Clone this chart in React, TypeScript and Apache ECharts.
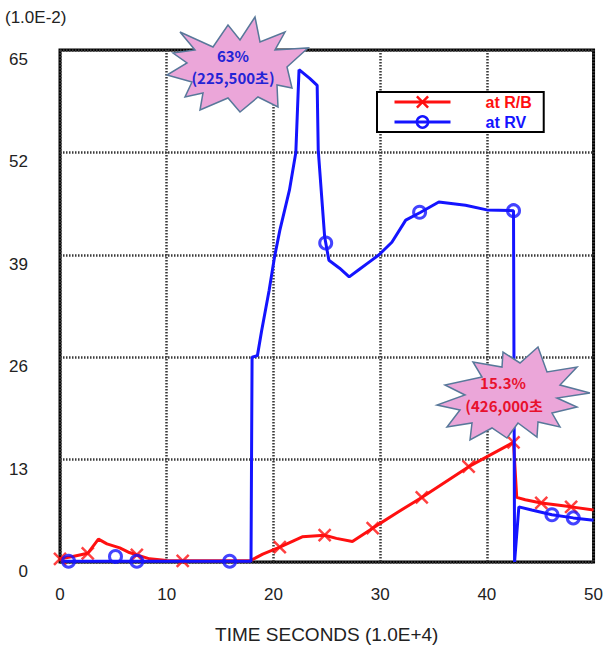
import React, { useEffect, useRef } from "react";
import * as echarts from "echarts";

// ---- data ----
const xMin = 0;
const xMax = 50;
const xInterval = 10;
const yMin = 0;
const yMax = 65;
const yInterval = 13;

const seriesNames = ["at R/B", "at RV"];
const yUnitLabel = "(1.0E-2)";
const xAxisTitle = "TIME SECONDS (1.0E+4)";

// at R/B (red) line trace [time (1e4 s), value (1e-2)]
const rbLine: number[][] = [
  [0, 0.4], [1.2, 0.7], [2.6, 1.1], [3.6, 2.9], [4.4, 2.3], [5.6, 1.8],
  [6.5, 1.2], [7.2, 0.9], [8.4, 0.4], [10, 0.2], [11.5, 0.15], [17.8, 0.15],
  [19, 1.0], [20.6, 1.9], [22.7, 3.2], [24.8, 3.4], [25.9, 3.0], [27.4, 2.6],
  [29.3, 4.3], [31.5, 6.2], [33.9, 8.2], [38.3, 12.1], [42.5, 15.2],
  [42.8, 8.2], [43.6, 7.9], [45.1, 7.5], [47.9, 7.0], [50, 6.6],
];
// at R/B marker (x) positions
const rbMarks: number[][] = [
  [0, 0.4], [2.6, 1.1], [7.2, 0.9], [11.5, 0.15], [20.6, 1.9], [24.8, 3.4],
  [29.3, 4.3], [33.9, 8.2], [38.3, 12.1], [42.5, 15.2], [45.1, 7.5], [47.9, 7.0],
];

// at RV (blue) line trace
const rvLine: number[][] = [
  [0.3, 0.1], [17.9, 0.1], [18.0, 26], [18.5, 26.2], [18.9, 29.4], [19.6, 34.5],
  [20.1, 38.7], [20.6, 42.1], [21.5, 47.2], [22.1, 52], [22.4, 62.5],
  [23.4, 61.4], [24.1, 60.5], [24.2, 52.3], [24.8, 41.3], [25.2, 38.3],
  [26.2, 37.3], [27.1, 36.2], [28.0, 37.1], [29.0, 38.1], [29.9, 39],
  [31.1, 40.6], [32.4, 43.4], [33.8, 44.4], [35.5, 45.7], [38, 45.3],
  [40, 44.7], [42.5, 44.6], [42.6, 0], [43.0, 7.0], [44.2, 6.6],
  [46.1, 6.0], [48.1, 5.6], [50, 5.3],
];
// at RV marker (o) positions
const rvMarks: number[][] = [
  [0.8, 0.1], [5.2, 0.7], [7.2, 0.1], [15.9, 0.1], [24.9, 40.5],
  [33.7, 44.4], [42.5, 44.6], [46.1, 6.0], [48.1, 5.6],
];

// callout texts
const peakCallout = ["63%", "(225,500초)"];
const rbCallout = ["15.3%", "(426,000초"];

// ---- decoration shapes (pixel outlines of the starburst callouts) ----
const burst1: number[][] = [
  [180, 32], [213, 47], [228, 25], [240, 40], [255, 17], [260, 42], [285, 32],
  [275, 50], [308, 48], [287, 67], [292, 88], [277, 85], [278, 107], [258, 97],
  [240, 112], [228, 98], [200, 110], [203, 93], [185, 97], [192, 82], [167, 75],
  [187, 63], [173, 53], [195, 50],
];
const burst2: number[][] = [
  [538, 347], [520, 363], [503, 352], [502, 367], [473, 362], [482, 377],
  [445, 385], [465, 395], [437, 405], [460, 410], [447, 427], [472, 423],
  [470, 440], [492, 428], [507, 438], [518, 423], [537, 437], [538, 422],
  [560, 427], [552, 413], [577, 407], [557, 398], [590, 393], [560, 385],
  [577, 367], [547, 372],
];

const RED = "#ff1010";
const BLUE = "#1414ff";
const X_SYMBOL = "path://M0,0L10,10M0,10L10,0";
const FONT = "Liberation Sans";
const KFONT = "Noto Sans CJK KR";

export default function App() {
  const ref = useRef<HTMLDivElement>(null);

  useEffect(() => {
    if (!ref.current) return;
    const chart = echarts.init(ref.current, null, { renderer: "svg" });

    const burstStyle = { fill: "#eba6d9", stroke: "#58789a", lineWidth: 1.5 };
    const calloutText = (x: number, y: number, text: string, color: string) => ({
      type: "text",
      x,
      y,
      z: 110,
      style: {
        text,
        fill: color,
        fontSize: 15,
        fontWeight: "bold",
        fontFamily: KFONT,
        lineHeight: 18,
        align: "center",
        verticalAlign: "middle",
      },
    });

    const gridLine = { show: true, lineStyle: { color: "#3a3a3a", width: 2.5, type: [1.5, 1.5] } };

    chart.setOption({
      animation: false,
      backgroundColor: "#ffffff",
      grid: {
        left: 60,
        top: 50,
        right: 11,
        bottom: 88,
        show: true,
        borderColor: "#000",
        borderWidth: 3,
        backgroundColor: "#fff",
        containLabel: false,
      },
      xAxis: {
        type: "value",
        min: xMin,
        max: xMax,
        interval: xInterval,
        name: xAxisTitle,
        nameLocation: "middle",
        nameGap: 63,
        nameTextStyle: { fontFamily: FONT, fontSize: 19, color: "#222" },
        axisLine: { show: false },
        axisTick: { show: false },
        axisLabel: { margin: 24, fontFamily: FONT, fontSize: 17, color: "#222" },
        splitLine: gridLine,
      },
      yAxis: {
        type: "value",
        min: yMin,
        max: yMax,
        interval: yInterval,
        axisLine: { show: false },
        axisTick: { show: false },
        axisLabel: {
          margin: 32,
          fontFamily: FONT,
          fontSize: 17,
          color: "#222",
          verticalAlign: "top",
          padding: [1, 0, 0, 0],
        },
        splitLine: gridLine,
      },
      legend: {
        show: true,
        orient: "vertical",
        left: 377,
        top: 92,
        padding: [2, 12, 2, 16],
        itemWidth: 56,
        itemHeight: 14,
        itemGap: 4,
        backgroundColor: "#fff",
        borderColor: "#000",
        borderWidth: 2,
        selectedMode: false,
        textStyle: { fontFamily: FONT, fontSize: 16, fontWeight: "bold", padding: [0, 0, 0, 30] },
        data: [
          {
            name: seriesNames[0],
            itemStyle: { color: "rgba(0,0,0,0)", borderColor: RED, borderWidth: 2.5 },
            lineStyle: { color: RED, width: 3 },
            textStyle: { color: RED },
          },
          {
            name: seriesNames[1],
            itemStyle: { color: "rgba(0,0,0,0)", borderColor: BLUE, borderWidth: 2.5 },
            lineStyle: { color: BLUE, width: 3 },
            textStyle: { color: BLUE },
          },
        ],
      },
      series: [
        {
          name: seriesNames[0],
          type: "line",
          data: rbLine,
          symbol: X_SYMBOL,
          showSymbol: false,
          lineStyle: { color: RED, width: 3 },
          itemStyle: { color: RED, borderColor: RED, borderWidth: 2.5 },
          z: 2,
        },
        {
          name: "rbMarks",
          type: "scatter",
          data: rbMarks,
          symbol: X_SYMBOL,
          symbolSize: 12,
          itemStyle: { color: "rgba(0,0,0,0)", borderColor: RED, borderWidth: 2.5 },
          z: 3,
        },
        {
          name: seriesNames[1],
          type: "line",
          data: rvLine,
          symbol: "circle",
          showSymbol: false,
          lineStyle: { color: BLUE, width: 3 },
          itemStyle: { color: BLUE, borderColor: BLUE, borderWidth: 2.5 },
          z: 4,
        },
        {
          name: "rvMarks",
          type: "scatter",
          data: rvMarks,
          symbol: "circle",
          symbolSize: 12,
          itemStyle: { color: "rgba(0,0,0,0)", borderColor: BLUE, borderWidth: 3 },
          z: 5,
        },
      ],
      graphic: [
        {
          type: "text",
          left: 5,
          top: 9,
          style: { text: yUnitLabel, fontFamily: FONT, fontSize: 17, fill: "#222" },
        },
        { type: "polygon", z: 100, shape: { points: burst1 }, style: burstStyle },
        calloutText(233, 55, peakCallout[0], "#2323d6"),
        calloutText(233, 77, peakCallout[1], "#2323d6"),
        { type: "polygon", z: 100, shape: { points: burst2 }, style: burstStyle },
        calloutText(503, 382, rbCallout[0], "#e8112d"),
        calloutText(504, 405, rbCallout[1], "#e8112d"),
      ],
    });

    return () => chart.dispose();
  }, []);

  return (
    <div
      ref={ref}
      style={{ position: "fixed", left: 0, top: 0, width: 606, height: 650, background: "#fff" }}
    />
  );
}
